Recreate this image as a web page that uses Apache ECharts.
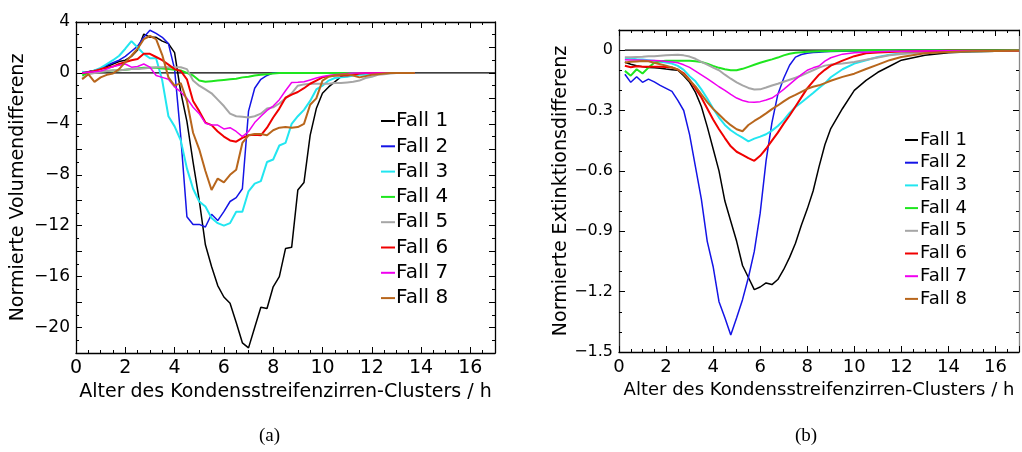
<!DOCTYPE html>
<html>
<head>
<meta charset="utf-8">
<script src="https://cdn.jsdelivr.net/npm/echarts@6/dist/echarts.min.js"></script>
<style>html,body{margin:0;padding:0;background:#fff;}#c{width:1022px;height:452px;}</style>
</head>
<body>
<div id="c"></div>
<script>
// ---------- shared ----------
const names = ['Fall 1','Fall 2','Fall 3','Fall 4','Fall 5','Fall 6','Fall 7','Fall 8'];
const xTitle = 'Alter des Kondensstreifenzirren-Clusters / h';
const yTitleA = 'Normierte Volumendifferenz';
const yTitleB = 'Normierte Extinktionsdifferenz';
const captions = ['(a)', '(b)'];

// ---------- panel (a): time in h ----------
const timeA = [0.25,0.5,0.75,1,1.25,1.5,1.75,2,2.25,2.5,2.75,3,3.25,3.5,3.75,4,
  4.25,4.5,4.75,5,5.25,5.5,5.75,6,6.25,6.5,6.75,7,7.25,7.5,7.75,8,
  8.25,8.5,8.75,9,9.25,9.5,9.75,10,10.25,10.5,10.75,11,11.25,11.5,11.75,12,
  12.25,12.5,12.75,13,13.25,13.5,13.75];
const volFall1 = [0.0,0.1,0.2,0.3, 0.5,0.7,0.9,1.0, 1.3,1.8,3.05,2.8, 2.8,2.5,2.3,1.6,
  -1.5,-3.8,-7.0,-10.0, -13.5,-15.2,-16.7,-17.6, -18.1,-19.6,-21.2,-21.6, -20.0,-18.4,-18.5,-16.8,
  -16.0,-13.8,-13.7,-9.2, -8.6,-4.9,-2.8,-1.6, -1.1,-0.7,-0.3,-0.1, 0,0,0,0, 0,0,0,0, 0,0,0];
const volFall2 = [0.0,0.1,0.2,0.35, 0.6,0.8,1.0,1.3, 1.7,2.1,2.8,3.35, 3.1,2.8,2.3,0.3,
  -5.0,-11.3,-11.9,-11.9, -12.1,-11.1,-11.6,-10.9, -10.1,-9.8,-9.1,-3.0, -1.2,-0.5,-0.2,0.0,
  0,0,0,0, 0,0,0,0, 0,0,0,0, 0,0,0,0, 0,0,0,0, 0,0,0];
const volFall3 = [0.1,0.0,0.2,0.4, 0.7,1.0,1.35,1.9, 2.5,2.0,1.5,1.15, 1.15,-0.6,-3.4,-4.2,
  -5.3,-7.5,-9.1,-10.1, -10.5,-11.4,-11.8,-12.0, -11.8,-10.9,-10.9,-9.3, -8.7,-8.5,-7.0,-6.8,
  -5.7,-5.5,-4.0,-3.4, -2.9,-2.2,-1.3,-1.0, -0.6,-0.4,-0.35,-0.3, -0.2,-0.15,-0.15,-0.1, -0.05,0,0,0, 0,0,0];
const volFall4 = [-0.2,0.0,0.1,0.1, 0.15,0.2,0.2,0.25, 0.3,0.35,0.4,0.4, 0.4,0.35,0.3,0.25,
  0.2,0.0,-0.2,-0.6, -0.7,-0.65,-0.6,-0.55, -0.5,-0.45,-0.35,-0.3, -0.2,-0.15,-0.1,-0.05,
  0,0,0,0, 0,0,0,0, 0,0,0,0, 0,0,0,0, 0,0,0,0, 0,0,0];
const volFall5 = [-0.45,-0.1,0.0,0.1, 0.15,0.2,0.2,0.25, 0.3,0.3,0.35,0.4, 0.45,0.45,0.45,0.45,
  0.45,0.3,-0.6,-1.0, -1.3,-1.6,-2.1,-2.6, -3.2,-3.4,-3.45,-3.5, -3.4,-3.2,-2.8,-2.7,
  -2.4,-2.0,-1.6,-1.0, -0.9,-0.85,-0.85,-0.85, -0.85,-0.8,-0.8,-0.75, -0.7,-0.6,-0.4,-0.3, -0.15,-0.1,-0.05,0, 0,0,0];
const volFall6 = [0.0,0.05,0.15,0.3, 0.4,0.5,0.7,0.85, 1.0,1.1,1.5,1.5, 1.25,1.0,0.65,0.3,
  0.15,-0.5,-2.2,-3.0, -3.9,-4.1,-4.6,-5.0, -5.3,-5.4,-5.1,-4.9, -4.85,-4.9,-4.3,-3.5,
  -2.8,-1.95,-1.7,-1.5, -1.2,-0.85,-0.6,-0.35, -0.25,-0.2,-0.2,-0.2, -0.15,-0.05,0,0, 0,0,0,0, 0,0,0];
const volFall7 = [0.0,0.05,0.1,0.15, 0.3,0.5,0.6,0.7, 0.45,0.5,0.7,0.45, -0.2,-0.35,-0.5,-1.1,
  -1.5,-2.0,-2.7,-3.2, -3.95,-4.1,-4.1,-4.4, -4.3,-4.6,-5.0,-4.6, -3.9,-3.4,-2.95,-2.6,
  -2.1,-1.4,-0.75,-0.73, -0.7,-0.55,-0.4,-0.28, -0.2,-0.15,-0.1,-0.05, 0,0,0,0, 0,0,0,0, 0,0,0];
const volFall8 = [-0.5,-0.1,-0.7,-0.35, -0.15,-0.05,0.3,0.85, 1.35,1.9,2.65,2.9, 2.65,1.4,-0.35,-1.0,
  -0.8,-2.2,-4.7,-6.0, -7.7,-9.2,-8.3,-8.6, -8.0,-7.6,-5.5,-4.9, -4.8,-4.8,-4.9,-4.5,
  -4.3,-4.25,-4.3,-4.25, -4.0,-2.5,-2.0,-0.6, -0.3,-0.2,-0.15,-0.1, -0.2,-0.35,-0.25,-0.15, -0.1,-0.05,0,0, 0,0,0];

// ---------- panel (b) ----------
const timeB = [0.25,0.5,0.75,1,1.25,1.5,1.75,2,2.25,2.5,2.75,3,3.25,3.5,3.75,4,
  4.25,4.5,4.75,5,5.25,5.5,5.75,6,6.25,6.5,6.75,7,7.25,7.5,7.75,8,8.25,8.5,8.75,9,
  9.5,10,10.5,11,11.5,12, 13,14,15,16,17];
const extFall1 = [-0.06,-0.07,-0.078,-0.082,-0.086,-0.088,-0.09,-0.094,-0.097,-0.10,-0.127,-0.16,-0.21,-0.28,-0.38,-0.49,
  -0.60,-0.75,-0.85,-0.95,-1.07,-1.13,-1.19,-1.177,-1.157,-1.165,-1.14,-1.09,-1.03,-0.96,-0.87,-0.79,-0.70,-0.58,-0.47,-0.39,
  -0.29,-0.20,-0.15,-0.11,-0.08,-0.05, -0.025,-0.013,-0.008,-0.005,-0.003];
const extFall2 = [-0.12,-0.16,-0.132,-0.16,-0.144,-0.158,-0.175,-0.19,-0.205,-0.25,-0.3,-0.42,-0.58,-0.74,-0.95,-1.075,
  -1.25,-1.33,-1.415,-1.33,-1.24,-1.13,-1.0,-0.81,-0.55,-0.36,-0.22,-0.14,-0.075,-0.035,-0.022,-0.016,-0.012,-0.01,-0.008,-0.007,
  -0.005,-0.004,-0.003,-0.002,-0.002,-0.001, 0,0,0,0,0];
const extFall3 = [-0.04,-0.042,-0.045,-0.047,-0.05,-0.053,-0.058,-0.062,-0.067,-0.078,-0.098,-0.13,-0.155,-0.195,-0.24,-0.29,
  -0.335,-0.372,-0.398,-0.418,-0.435,-0.453,-0.44,-0.43,-0.418,-0.40,-0.377,-0.348,-0.312,-0.283,-0.26,-0.237,-0.213,-0.188,-0.165,-0.135,
  -0.095,-0.067,-0.05,-0.034,-0.023,-0.017, -0.011,-0.008,-0.005,-0.004,-0.003];
const extFall4 = [-0.103,-0.127,-0.095,-0.116,-0.087,-0.063,-0.055,-0.053,-0.053,-0.053,-0.053,-0.053,-0.055,-0.059,-0.067,-0.078,
  -0.088,-0.095,-0.1,-0.1,-0.093,-0.083,-0.073,-0.063,-0.054,-0.046,-0.037,-0.026,-0.018,-0.013,-0.01,-0.008,-0.007,-0.006,-0.005,-0.004,
  -0.003,-0.002,-0.001,-0.001,0,0, 0,0,0,0,0];
const extFall5 = [-0.036,-0.035,-0.034,-0.033,-0.031,-0.03,-0.028,-0.026,-0.024,-0.023,-0.026,-0.032,-0.043,-0.058,-0.072,-0.087,
  -0.1,-0.122,-0.142,-0.16,-0.175,-0.188,-0.196,-0.195,-0.186,-0.176,-0.167,-0.157,-0.147,-0.137,-0.126,-0.113,-0.1,-0.087,-0.077,-0.072,
  -0.066,-0.059,-0.048,-0.037,-0.026,-0.019, -0.01,-0.007,-0.005,-0.004,-0.003];
const extFall6 = [-0.078,-0.085,-0.08,-0.083,-0.083,-0.083,-0.083,-0.084,-0.086,-0.097,-0.115,-0.148,-0.19,-0.235,-0.29,-0.345,
  -0.393,-0.437,-0.478,-0.505,-0.52,-0.537,-0.55,-0.525,-0.49,-0.45,-0.41,-0.365,-0.325,-0.28,-0.235,-0.19,-0.155,-0.122,-0.098,-0.077,
  -0.052,-0.03,-0.016,-0.012,-0.009,-0.007, -0.005,-0.003,-0.003,-0.003,-0.003];
const extFall7 = [-0.048,-0.049,-0.049,-0.05,-0.051,-0.052,-0.053,-0.056,-0.059,-0.063,-0.073,-0.086,-0.104,-0.123,-0.142,-0.162,
  -0.182,-0.2,-0.22,-0.238,-0.25,-0.258,-0.259,-0.256,-0.248,-0.238,-0.218,-0.195,-0.17,-0.145,-0.122,-0.1,-0.088,-0.079,-0.055,-0.038,
  -0.02,-0.013,-0.01,-0.008,-0.006,-0.005, -0.004,-0.003,-0.003,-0.003,-0.003];
const extFall8 = [-0.061,-0.058,-0.056,-0.054,-0.055,-0.063,-0.07,-0.077,-0.086,-0.096,-0.12,-0.15,-0.18,-0.22,-0.258,-0.292,
  -0.32,-0.348,-0.373,-0.393,-0.403,-0.372,-0.352,-0.334,-0.314,-0.293,-0.275,-0.255,-0.236,-0.222,-0.207,-0.192,-0.182,-0.175,-0.164,-0.152,
  -0.133,-0.117,-0.094,-0.072,-0.05,-0.034, -0.015,-0.009,-0.006,-0.004,-0.003];

const xTicksA = [0,2,4,6,8,10,12,14,16];
const yTicksA = [4,0,-4,-8,-12,-16,-20];
const yTicksB = [0,-0.3,-0.6,-0.9,-1.2,-1.5];

const colors = ['#000000','#1414e6','#22e6f0','#1ee61e','#a6a6a6','#f00000','#f000f0','#b8661c'];
const widths = [1.5,1.5,2,2,2,2,1.5,2];
const volSeries = [volFall1,volFall2,volFall3,volFall4,volFall5,volFall6,volFall7,volFall8];
const extSeries = [extFall1,extFall2,extFall3,extFall4,extFall5,extFall6,extFall7,extFall8];

const FONT = 'DejaVu Sans';
const minus = s => String(s).replace('-', '\u2212');

function xAxes(grid, labelSize) {
  const base = {gridIndex: grid, type: 'value', min: 0, max: 17, interval: 2,
    splitLine: {show: false},
    axisLine: {show: true, onZero: false, lineStyle: {color: '#000', width: 1.3}},
    axisTick: {show: true, inside: true, length: 6, lineStyle: {color: '#000', width: 1}},
    minorTick: {show: true, splitNumber: 4, length: 3, lineStyle: {color: '#000', width: 1}}};
  return [
    Object.assign({}, base, {position: 'bottom',
      axisLabel: {show: true, fontFamily: FONT, fontSize: labelSize, color: '#000', margin: 6,
        showMaxLabel: false, formatter: v => xTicksA.includes(v) ? String(v) : ''},
      name: xTitle, nameLocation: 'middle', nameGap: 29,
      nameTextStyle: {fontFamily: FONT, fontSize: labelSize, color: '#000'}}),
    Object.assign({}, base, {position: 'top', axisLabel: {show: false}})
  ];
}

const option = {
  animation: false,
  backgroundColor: '#fff',
  grid: [
    {left: 76, top: 22, width: 419, height: 331},
    {left: 619, top: 30, width: 400, height: 322}
  ],
  xAxis: [].concat(xAxes(0, 19), xAxes(1, 18)),
  yAxis: [
    {gridIndex: 0, type: 'value', min: -22, max: 4, interval: 2, position: 'left',
      splitLine: {show: false},
      axisLine: {show: true, onZero: false, lineStyle: {color: '#000', width: 1.3}},
      axisTick: {show: true, inside: true, length: 6, lineStyle: {color: '#000'}},
      minorTick: {show: true, splitNumber: 2, length: 3, lineStyle: {color: '#000'}},
      axisLabel: {fontFamily: FONT, fontSize: 17, color: '#000', margin: 6,
        formatter: v => yTicksA.includes(v) ? minus(v) : ''},
      name: yTitleA, nameLocation: 'middle', nameGap: 48, nameRotate: 90,
      nameTextStyle: {fontFamily: FONT, fontSize: 19, color: '#000'}},
    {gridIndex: 0, type: 'value', min: -22, max: 4, interval: 2, position: 'right',
      splitLine: {show: false},
      axisLine: {show: true, onZero: false, lineStyle: {color: '#000', width: 1.3}},
      axisTick: {show: true, inside: true, length: 6, lineStyle: {color: '#000'}},
      minorTick: {show: true, splitNumber: 2, length: 3, lineStyle: {color: '#000'}},
      axisLabel: {show: false}},
    {gridIndex: 1, type: 'value', min: -1.5, max: 0.1, interval: 0.3, position: 'left',
      splitLine: {show: false},
      axisLine: {show: true, onZero: false, lineStyle: {color: '#333', width: 1.3}},
      axisTick: {show: true, inside: true, length: 6, lineStyle: {color: '#000'}},
      minorTick: {show: true, splitNumber: 3, length: 3, lineStyle: {color: '#000'}},
      axisLabel: {fontFamily: FONT, fontSize: 16, color: '#000', margin: 6,
        formatter: v => {
          const hit = yTicksB.find(t => Math.abs(t - v) < 1e-6);
          if (hit === undefined) return '';
          return hit === 0 ? '0' : '\u2212' + Math.abs(hit).toFixed(1);
        }},
      name: yTitleB, nameLocation: 'middle', nameGap: 46, nameRotate: 90,
      nameTextStyle: {fontFamily: FONT, fontSize: 19, color: '#000'}},
    {gridIndex: 1, type: 'value', min: -1.5, max: 0.1, interval: 0.3, position: 'right',
      splitLine: {show: false},
      axisLine: {show: true, onZero: false, lineStyle: {color: '#888', width: 1.3}},
      axisTick: {show: true, inside: true, length: 6, lineStyle: {color: '#000'}},
      minorTick: {show: true, splitNumber: 3, length: 3, lineStyle: {color: '#000'}},
      axisLabel: {show: false}}
  ],
  legend: [
    {data: names, orient: 'vertical', left: 376, top: 105, icon: 'rect', itemWidth: 14, itemHeight: 2,
      itemGap: 3.3, selectedMode: false,
      textStyle: {fontFamily: FONT, fontSize: 20, lineHeight: 22, color: '#000', padding: [0, 0, 0, -4]}},
    {data: names, orient: 'vertical', left: 900, top: 125, icon: 'rect', itemWidth: 13, itemHeight: 2,
      itemGap: 2.7, selectedMode: false,
      textStyle: {fontFamily: FONT, fontSize: 18, lineHeight: 20, color: '#000', padding: [0, 0, 0, -3]}}
  ],
  graphic: [
    {type: 'text', left: 259, top: 427, style: {text: captions[0], font: '19px "Liberation Serif"', fill: '#000'}},
    {type: 'text', left: 795, top: 427, style: {text: captions[1], font: '19px "Liberation Serif"', fill: '#000'}}
  ],
  series: []
};

const zip = (xs, ys) => xs.map((x, i) => [x, ys[i]]);

// zero reference lines
option.series.push({type: 'line', name: 'zeroA', xAxisIndex: 0, yAxisIndex: 0, symbol: 'none', silent: true,
  data: [[0.25, 0], [17, 0]], lineStyle: {color: '#000', width: 1.2}, z: 1});
option.series.push({type: 'line', name: 'zeroB', xAxisIndex: 2, yAxisIndex: 2, symbol: 'none', silent: true,
  data: [[0.25, 0], [17, 0]], lineStyle: {color: '#000', width: 1.2}, z: 1});

names.forEach((n, i) => {
  option.series.push({type: 'line', name: n, xAxisIndex: 0, yAxisIndex: 0, symbol: 'none',
    data: zip(timeA, volSeries[i]), color: colors[i],
    lineStyle: {color: colors[i], width: widths[i]}, z: 2 + i});
});
names.forEach((n, i) => {
  option.series.push({type: 'line', name: n, xAxisIndex: 2, yAxisIndex: 2, symbol: 'none',
    data: zip(timeB, extSeries[i]), color: colors[i],
    lineStyle: {color: colors[i], width: widths[i]}, z: 2 + i});
});

const chart = echarts.init(document.getElementById('c'), null, {renderer: 'canvas'});
chart.setOption(option);
</script>
</body>
</html>
